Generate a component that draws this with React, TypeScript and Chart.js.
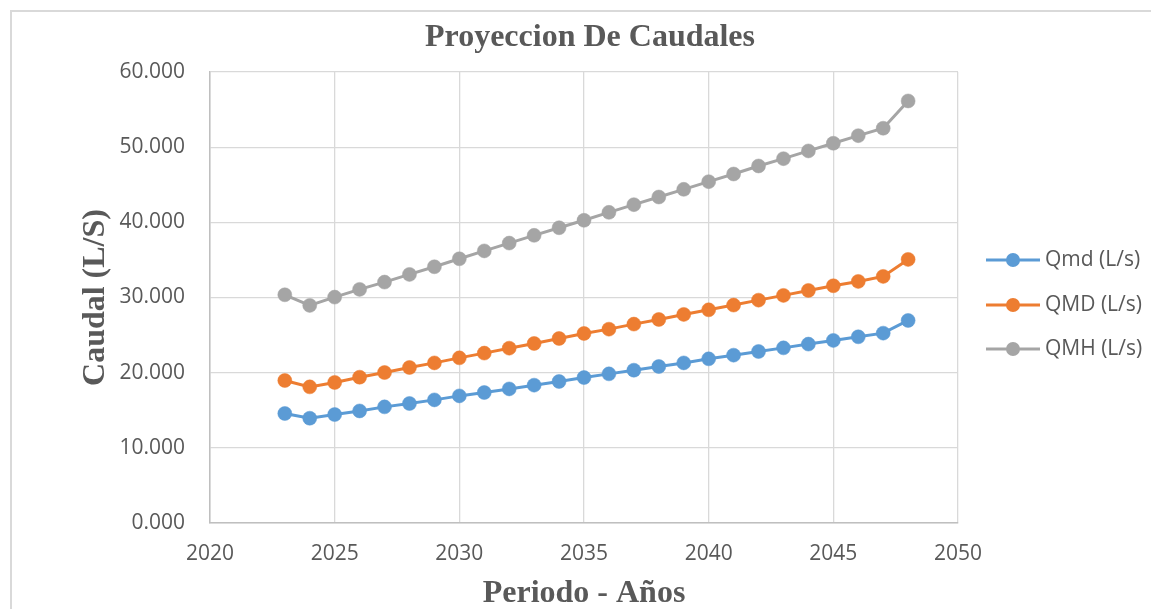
import React, { useEffect, useRef } from "react";
import { Chart, registerables } from "chart.js";

Chart.register(...registerables);

const years = [2023, 2024, 2025, 2026, 2027, 2028, 2029, 2030, 2031, 2032, 2033, 2034, 2035, 2036, 2037, 2038, 2039, 2040, 2041, 2042, 2043, 2044, 2045, 2046, 2047, 2048];
const qmd = [14.57, 13.94, 14.43, 14.91, 15.45, 15.9, 16.38, 16.91, 17.36, 17.84, 18.34, 18.83, 19.35, 19.84, 20.33, 20.82, 21.3, 21.84, 22.33, 22.82, 23.3, 23.8, 24.29, 24.77, 25.26, 26.95];
const qMD = [18.96, 18.11, 18.7, 19.4, 20.02, 20.69, 21.3, 21.97, 22.6, 23.26, 23.89, 24.55, 25.22, 25.79, 26.46, 27.08, 27.75, 28.36, 28.99, 29.65, 30.28, 30.94, 31.56, 32.14, 32.81, 35.07];
const qMH = [30.36, 28.95, 30.05, 31.08, 32.05, 33.07, 34.09, 35.15, 36.2, 37.24, 38.27, 39.28, 40.27, 41.33, 42.35, 43.37, 44.39, 45.41, 46.43, 47.5, 48.47, 49.5, 50.52, 51.53, 52.52, 56.15];
const seriesLabels = ["Qmd (L/s)", "QMD (L/s)", "QMH (L/s)"];
const seriesColors = ["#5B9BD5", "#ED7D31", "#A5A5A5"];
const chartTitle = "Proyeccion De Caudales";
const xTitle = "Periodo - Años";
const yTitle = "Caudal (L/S)";

const TEXT = "#595959";
const TICK_FONT = "'Open Sans'";
const SERIF = "'Liberation Serif', 'Times New Roman', serif";

const frameAndLegend = {
  id: "frameAndLegend",
  beforeDraw(chart: any) {
    const ctx = chart.ctx;
    ctx.save();
    ctx.fillStyle = "#ffffff";
    ctx.fillRect(0, 0, chart.width, chart.height);
    ctx.strokeStyle = "#d9d9d9";
    ctx.lineWidth = 2;
    ctx.strokeRect(11, 11, chart.width + 20, chart.height + 20);
    ctx.fillStyle = TEXT;
    ctx.font = `bold 32px ${SERIF}`;
    ctx.textAlign = "center";
    ctx.textBaseline = "alphabetic";
    ctx.fillText(chartTitle, 590, 46);
    ctx.restore();
  },
  afterDraw(chart: any) {
    const ctx = chart.ctx;
    ctx.save();
    const ys = [260, 305, 349];
    chart.data.datasets.forEach((ds: any, i: number) => {
      const y = ys[i];
      ctx.strokeStyle = ds.borderColor;
      ctx.lineWidth = 3;
      ctx.beginPath();
      ctx.moveTo(986, y);
      ctx.lineTo(1040, y);
      ctx.stroke();
      ctx.fillStyle = ds.backgroundColor;
      ctx.beginPath();
      ctx.arc(1013, y, 7, 0, Math.PI * 2);
      ctx.fill();
      ctx.fillStyle = TEXT;
      ctx.font = `21px ${TICK_FONT}`;
      ctx.textBaseline = "middle";
      ctx.textAlign = "left";
      ctx.fillText(ds.label, 1045, y);
    });
    ctx.restore();
  },
};

export default function App() {
  const ref = useRef<HTMLCanvasElement | null>(null);
  useEffect(() => {
    if (!ref.current) return;
    const series = [qmd, qMD, qMH];
    const chart = new Chart(ref.current, {
      type: "line",
      data: {
        datasets: series.map((vals, i) => ({
          label: seriesLabels[i],
          data: years.map((yr, j) => ({ x: yr, y: vals[j] })),
          borderColor: seriesColors[i],
          backgroundColor: seriesColors[i],
          pointBackgroundColor: seriesColors[i],
          pointBorderColor: seriesColors[i],
          borderWidth: 3,
          pointRadius: 7,
          pointBorderWidth: 0.5,
          tension: 0,
        })),
      },
      options: {
        responsive: false,
        animation: false,
        layout: { padding: { left: 70, right: 193, top: 72, bottom: 0 } },
        plugins: {
          legend: { display: false },
          tooltip: { enabled: false },
          title: { display: false },
        },
        scales: {
          x: {
            type: "linear",
            min: 2020,
            max: 2050,
            afterFit: (s: any) => {
              s.height = 86;
            },
            ticks: {
              stepSize: 5,
              color: TEXT,
              font: { family: TICK_FONT, size: 21 },
              padding: 18,
              callback: (v: any) => String(v),
            },
            grid: { color: "#d9d9d9", lineWidth: 1.3, drawTicks: false },
            border: { color: "#bfbfbf", width: 1.5 },
            title: {
              display: true,
              text: xTitle,
              color: TEXT,
              font: { family: SERIF, size: 32, weight: "bold" },
              padding: { top: 7, bottom: -4 },
            },
          },
          y: {
            min: 0,
            max: 60,
            afterFit: (s: any) => {
              s.width = 140;
            },
            ticks: {
              stepSize: 10,
              color: TEXT,
              font: { family: TICK_FONT, size: 21 },
              padding: 25,
              callback: (v: any) => Number(v).toFixed(3),
            },
            grid: { color: "#d9d9d9", lineWidth: 1.3, drawTicks: false },
            border: { color: "#bfbfbf", width: 1.5 },
            title: {
              display: true,
              text: yTitle,
              color: TEXT,
              font: { family: SERIF, size: 32, weight: "bold" },
              padding: { top: 7, bottom: 4 },
            },
          },
        },
      },
      plugins: [frameAndLegend],
    } as any);
    return () => chart.destroy();
  }, []);
  return (
    <div style={{ position: "fixed", left: 0, top: 0, width: 1151, height: 609, background: "#fff" }}>
      <canvas ref={ref} width={1151} height={609} style={{ display: "block" }} />
    </div>
  );
}
